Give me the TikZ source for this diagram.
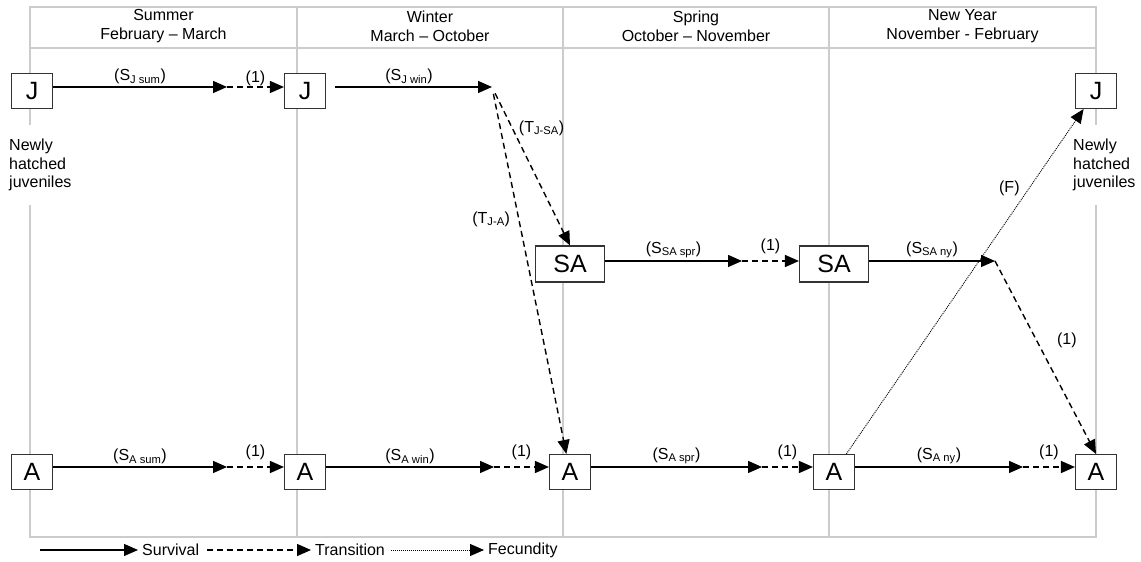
\documentclass[tikz,border=0pt]{standalone}
\usepackage{fontspec}
\setmainfont{Liberation Sans}
\usetikzlibrary{arrows.meta}

\begin{document}
\begin{tikzpicture}[x=1pt,y=1pt,>={Triangle[length=14pt,width=12pt]},
  stage/.style={draw=black!80,fill=white,line width=1.1pt,inner sep=0pt,
    minimum width=41pt,minimum height=35pt,font=\fontsize{25}{25}\selectfont},
  wide stage/.style={stage,minimum width=69pt,minimum height=36pt},
  season/.style={align=center,font=\fontsize{16}{19}\selectfont},
  note/.style={align=left,fill=white,inner xsep=3pt,inner ysep=14pt,
    font=\fontsize{16}{18.5}\selectfont},
  rate/.style={inner sep=2pt,font=\fontsize{16}{18}\selectfont},
  legend/.style={inner xsep=4pt,font=\fontsize{16}{18}\selectfont},
  survival/.style={->,line width=1.4pt},
  transition/.style={->,line width=1.4pt,dash pattern=on 6pt off 4pt},
  fecundity/.style={->,line width=0.9pt,dash pattern=on 1pt off 1pt},
  table line/.style={draw=black!20,line width=1.2pt}]

  \useasboundingbox (0,0) rectangle (1141,562);

  % the season table
  \draw[table line] (30,555) rectangle (1096,25);
  \draw[table line] (30,514) -- (1096,514);
  \foreach \x in {297,563,829}
    \draw[table line] (\x,555) -- (\x,25);

  \node[season] (sum) at (163.5,535.5) {Summer\\February – March};
  \node[season] (win) at (430,535.5) {Winter\\March – October};
  \node[season] (spr) at (696,535.5) {Spring\\October – November};
  \node[season] (ny) at (962.5,535.5) {New Year\\November - February};

  % stages
  \node[stage] (A1) at (32,90) {A};
  \node[stage,node distance=273pt] (A2) [right of=A1] {A};
  \node[stage,node distance=265pt] (A3) [right of=A2] {A};
  \node[stage,node distance=264pt] (A4) [right of=A3] {A};
  \node[stage,node distance=262pt] (A5) [right of=A4] {A};
  \node[stage,node distance=381pt] (J1) [above of=A1] {J};
  \node[stage,node distance=381pt] (J2) [above of=A2] {J};
  \node[stage,node distance=381pt] (J3) [above of=A5] {J};
  \node[wide stage,node distance=208pt] (SA1) [above of=A3] {SA};
  \node[wide stage,node distance=208pt] (SA2) [above of=A4] {SA};

  \node[note,anchor=west] (hatchL) at (6,397) {Newly\\hatched\\juveniles};
  \node[note,anchor=west] (hatchR) at (1070,397) {Newly\\hatched\\juveniles};

  % where survival stops and the transition starts
  \coordinate (j1) at (227,475);
  \coordinate (jwin) at (492,475);
  \coordinate (sa1) at (742,301);
  \coordinate (sa2) at (995,301);
  \coordinate (a1) at (227,95);
  \coordinate (a2) at (494,95);
  \coordinate (a3) at (762,95);
  \coordinate (a4) at (1023,95);

  \draw[survival] (J1.east |- j1) -- (j1) node[rate,midway,above] {(S\textsubscript{J sum})};
  \draw[transition] (j1) -- (J2.west |- j1) node[rate,midway,above=-2pt] {(1)};
  \draw[survival,shorten <=9pt] (J2.east |- jwin) -- (jwin) node[rate,midway,above] {(S\textsubscript{J win})};
  \draw[transition,shorten <=7pt] (jwin) -- (SA1.north) node[rate,pos=0.26,right=4pt] {(T\textsubscript{J-SA})};
  \draw[transition,shorten <=7pt] (jwin) -- (A3) node[rate,pos=0.36,left=6pt] {(T\textsubscript{J-A})};

  \draw[survival] (SA1.east |- sa1) -- (sa1) node[rate,midway,above] {(S\textsubscript{SA spr})};
  \draw[transition] (sa1) -- (SA2.west |- sa1) node[rate,midway,above=4pt] {(1)};
  \draw[survival] (SA2.east |- sa2) -- (sa2) node[rate,midway,above] {(S\textsubscript{SA ny})};
  \draw[transition] (sa2) -- (A5.north) node[rate,pos=0.41,right=18pt] {(1)};

  \draw[survival] (A1.east |- a1) -- (a1) node[rate,midway,above] {(S\textsubscript{A sum})};
  \draw[transition] (a1) -- (A2.west |- a1) node[rate,midway,above=4pt] {(1)};
  \draw[survival] (A2.east |- a2) -- (a2) node[rate,midway,above] {(S\textsubscript{A win})};
  \draw[transition] (a2) -- (A3.west |- a2) node[rate,midway,above=4pt] {(1)};
  \draw[survival] (A3.east |- a3) -- (a3) node[rate,midway,above] {(S\textsubscript{A spr})};
  \draw[transition] (a3) -- (A4.west |- a3) node[rate,midway,above=4pt] {(1)};
  \draw[survival] (A4.east |- a4) -- (a4) node[rate,midway,above] {(S\textsubscript{A ny})};
  \draw[transition] (a4) -- (A5.west |- a4) node[rate,midway,above=4pt] {(1)};

  \draw[fecundity] (A4) -- (J3) node[rate,pos=0.77,left=7pt] {(F)};

  % key
  \coordinate (key) at (40,12);
  \node[legend,anchor=west] (surv) at (138,12) {Survival};
  \node[legend,anchor=west] (trans) at (311,12) {Transition};
  \node[legend,anchor=west] (fec) at (484,12) {Fecundity};
  \draw[survival] (key) -- (surv.west);
  \draw[transition,shorten <=4pt] (surv.east) -- (trans.west);
  \draw[fecundity,shorten <=2pt] (trans.east) -- (fec.west);
\end{tikzpicture}
\end{document}
